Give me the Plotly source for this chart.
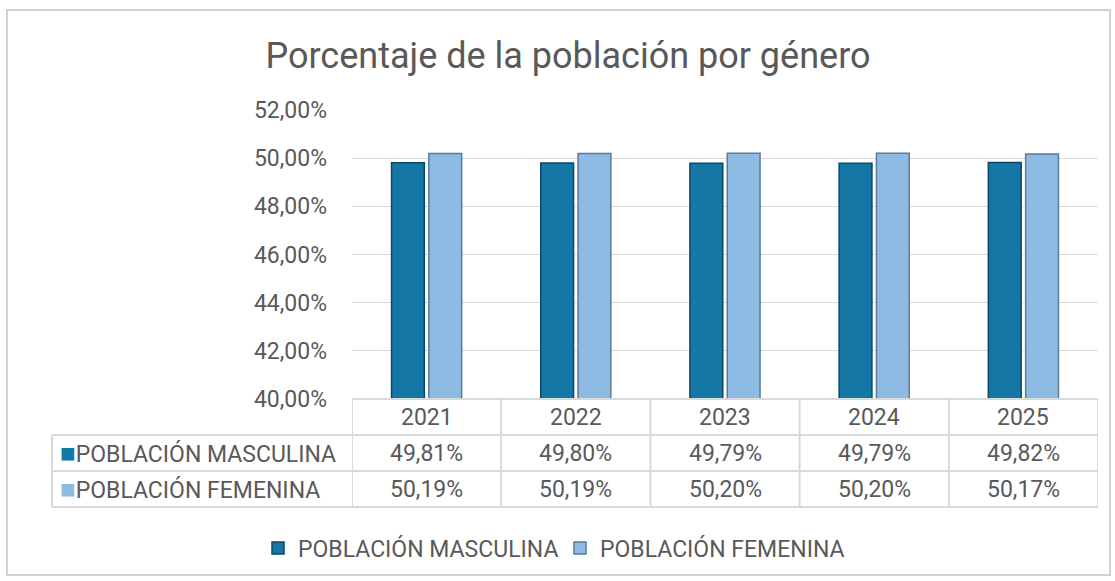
import plotly.graph_objects as go

years = ["2021", "2022", "2023", "2024", "2025"]
masculina = [49.81, 49.80, 49.79, 49.79, 49.82]
femenina = [50.19, 50.19, 50.20, 50.20, 50.17]
series_names = ["POBLACIÓN MASCULINA", "POBLACIÓN FEMENINA"]
title_text = "Porcentaje de la población por género"

W, H = 1115, 581
def px(x): return x / W
def py(y): return 1 - y / H

col_m = "#1577a6"
col_m_line = "#0b4766"
col_f = "#8dbbe3"
col_f_line = "#5b7b98"
txt = "#595959"
grid = "#d9d9d9"
FONT = "Roboto"
FS = 23

fig = go.Figure()
fig.add_trace(go.Bar(x=years, y=masculina, name=series_names[0],
                     marker=dict(color=col_m, line=dict(color=col_m_line, width=1.5))))
fig.add_trace(go.Bar(x=years, y=femenina, name=series_names[1],
                     marker=dict(color=col_f, line=dict(color=col_f_line, width=1.5))))

x0, x1 = px(352), px(1098)
y_top_plot, y_bot_plot = 110, 399
row_edges = [399, 435, 471, 507]
left_tab = 52

fig.update_layout(
    width=W, height=H,
    margin=dict(l=0, r=0, t=0, b=0, autoexpand=False),
    paper_bgcolor="white", plot_bgcolor="white",
    separators=",.",
    barmode="group", bargap=0.5, bargroupgap=0.12,
    font=dict(family=FONT, color=txt, size=FS),
    title=dict(text=title_text, x=px(568), xanchor="center", y=py(55), yanchor="middle",
               font=dict(size=36, color=txt, family=FONT)),
    xaxis=dict(type="category", domain=[x0, x1], showticklabels=False, showgrid=False,
               zeroline=False, showline=False, range=[-0.5, 4.5], fixedrange=True,
               automargin=False),
    yaxis=dict(domain=[py(y_bot_plot), py(y_top_plot)], range=[40, 52], dtick=2,
               tickformat=".2f", ticksuffix="%", showgrid=True, gridcolor=grid, gridwidth=1,
               zeroline=False, showline=False, ticks="", ticklabelstandoff=24,
               automargin=False, tickfont=dict(size=FS, color=txt, family=FONT)),
    legend=dict(orientation="h", x=px(258), xanchor="left", y=py(548), yanchor="middle",
                font=dict(size=FS, color=txt, family=FONT), itemwidth=30,
                traceorder="normal", entrywidthmode="pixels", entrywidth=257),
    showlegend=True,
)

shapes = []
shapes.append(dict(type="rect", xref="paper", yref="paper", x0=px(7), x1=px(1110),
                   y0=py(575), y1=py(10), line=dict(color="#d0d0d0", width=2), layer="below"))
for i, ry in enumerate(row_edges):
    xs = px(352) if i == 0 else px(left_tab)
    shapes.append(dict(type="line", xref="paper", yref="paper", x0=xs, x1=x1,
                       y0=py(ry), y1=py(ry), line=dict(color=grid, width=2)))
for k in range(len(years) + 1):
    shapes.append(dict(type="line", xref="x", yref="paper", x0=k - 0.5, x1=k - 0.5,
                       y0=py(row_edges[-1]), y1=py(row_edges[0]), line=dict(color=grid, width=2)))
shapes.append(dict(type="line", xref="paper", yref="paper", x0=px(left_tab), x1=px(left_tab),
                   y0=py(row_edges[-1]), y1=py(row_edges[1]), line=dict(color=grid, width=2)))

annotations = []
def cell_y(r): return py((row_edges[r] + row_edges[r + 1]) / 2)
for k, yr in enumerate(years):
    annotations.append(dict(x=k, xref="x", y=cell_y(0), yref="paper", yanchor="middle",
                            text=yr, showarrow=False, font=dict(size=FS, color=txt, family=FONT)))
    annotations.append(dict(x=k, xref="x", y=cell_y(1), yref="paper", yanchor="middle",
                            text=f"{masculina[k]:.2f}%".replace(".", ","), showarrow=False,
                            font=dict(size=FS, color=txt, family=FONT)))
    annotations.append(dict(x=k, xref="x", y=cell_y(2), yref="paper", yanchor="middle",
                            text=f"{femenina[k]:.2f}%".replace(".", ","), showarrow=False,
                            font=dict(size=FS, color=txt, family=FONT)))
for i, (nm, c) in enumerate(zip(series_names, [col_m, col_f])):
    annotations.append(dict(x=px(58), xref="paper", xanchor="left",
                            y=cell_y(i + 1), yref="paper", yanchor="middle",
                            text=f"<span style='color:{c};font-size:26px'>■</span>{nm}",
                            showarrow=False, font=dict(size=FS, color=txt, family=FONT)))

fig.update_layout(shapes=shapes, annotations=annotations)
fig.write_html("out.html", post_script="document.body.style.margin='0';",
               config={"displayModeBar": False})
